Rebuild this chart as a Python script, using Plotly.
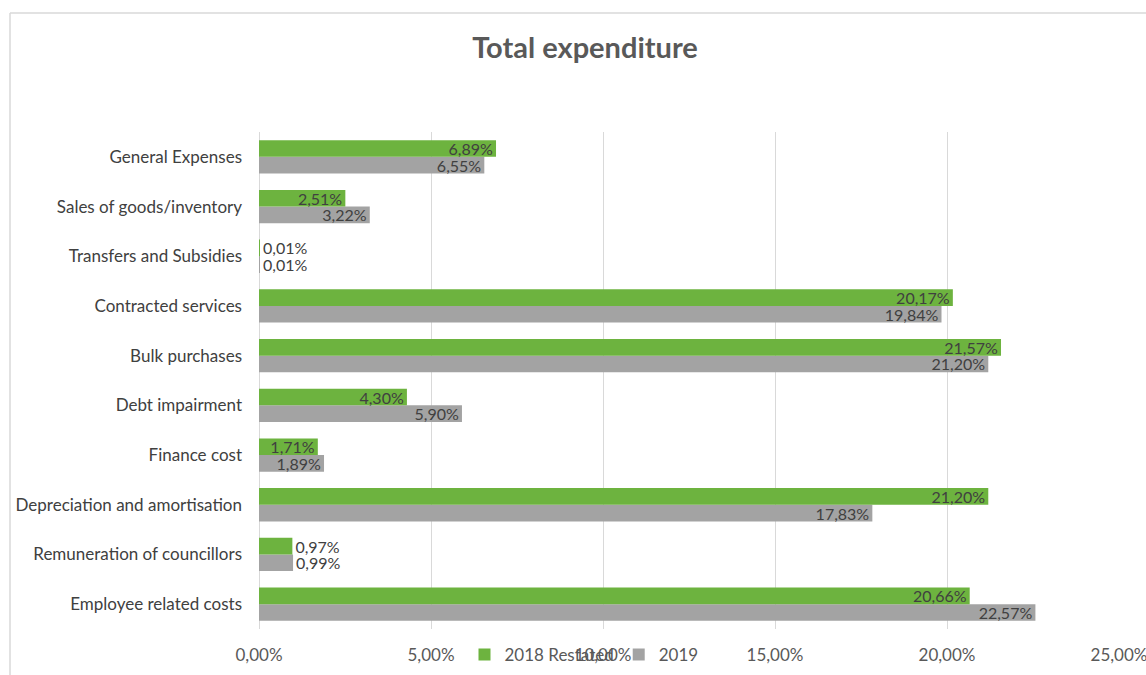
import plotly.graph_objects as go

categories = ["Employee related costs", "Remuneration of councillors", "Depreciation and amortisation",
              "Finance cost", "Debt impairment", "Bulk purchases", "Contracted services",
              "Transfers and Subsidies", "Sales of goods/inventory", "General Expenses"]
vals_2018 = [20.66, 0.97, 21.20, 1.71, 4.30, 21.57, 20.17, 0.01, 2.51, 6.89]
vals_2019 = [22.57, 0.99, 17.83, 1.89, 5.90, 21.20, 19.84, 0.01, 3.22, 6.55]
tick_vals = [0, 5, 10, 15, 20, 25]
tick_text = ["0,00%", "5,00%", "10,00%", "15,00%", "20,00%", "25,00%"]

W, H = 1146, 675
L, R, T, B = 259, 27, 132, 46
pw, ph = W - L - R, H - T - B

FONT = "Lato"
TXT = "#404040"
FS = 17

def fmt(v):
    return f"{v:.2f}%".replace(".", ",")

def pos(vals):
    return ["outside" if v < 1.5 else "inside" for v in vals]

fig = go.Figure()
fig.add_trace(go.Bar(
    y=categories, x=vals_2019, orientation="h", name="2019",
    marker=dict(color="#a3a3a3", line=dict(width=0)),
    text=[fmt(v) for v in vals_2019], textposition=pos(vals_2019),
    insidetextanchor="end", constraintext="none",
    textfont=dict(family=FONT, size=16, color=TXT), legendrank=2,
))
fig.add_trace(go.Bar(
    y=categories, x=vals_2018, orientation="h", name="2018 Restated",
    marker=dict(color="#6db33f", line=dict(width=0)),
    text=[fmt(v) for v in vals_2018], textposition=pos(vals_2018),
    insidetextanchor="end", constraintext="none",
    textfont=dict(family=FONT, size=16, color=TXT), legendrank=1,
))

fig.update_layout(
    width=W, height=H,
    margin=dict(l=L, r=R, t=T, b=B, autoexpand=False),
    paper_bgcolor="white", plot_bgcolor="white",
    barmode="group", bargap=0.33, bargroupgap=0,
    title=dict(text="<b>Total expenditure</b>", x=585 / W, xanchor="center",
               y=1 - 48 / H, yanchor="middle",
               font=dict(family=FONT, size=29, color="#595959")),
    font=dict(family=FONT, size=FS, color="#595959"),
    xaxis=dict(range=[0, 25], tickvals=tick_vals, ticktext=tick_text,
               showgrid=True, gridcolor="#d9d9d9", gridwidth=1,
               zeroline=True, zerolinecolor="#d9d9d9", zerolinewidth=1,
               tickfont=dict(family=FONT, size=FS, color="#595959"),
               ticks="", showline=False, ticklabelstandoff=14, automargin=False,
               ticklabeloverflow="allow"),
    yaxis=dict(showgrid=False, ticks="", showline=False, automargin=False,
               tickfont=dict(family=FONT, size=FS, color=TXT),
               ticklabelstandoff=16),
    legend=dict(orientation="h", x=(584 - L) / pw, xanchor="center",
                y=(H - B - 655) / ph, yanchor="middle",
                font=dict(family=FONT, size=FS, color="#595959"),
                bgcolor="rgba(0,0,0,0)", itemwidth=30, tracegroupgap=0),
    showlegend=True,
)

# chart border (top and left)
fig.add_shape(type="line", xref="paper", yref="paper",
              x0=(10 - L) / pw, x1=(W - L) / pw, y0=1 + (T - 13) / ph, y1=1 + (T - 13) / ph,
              line=dict(color="#d9d9d9", width=1.5))
fig.add_shape(type="line", xref="paper", yref="paper",
              x0=(10 - L) / pw, x1=(10 - L) / pw, y0=1 + (T - 13) / ph, y1=-(B + 5) / ph,
              line=dict(color="#d9d9d9", width=1.5))

fig.write_html("out.html")
